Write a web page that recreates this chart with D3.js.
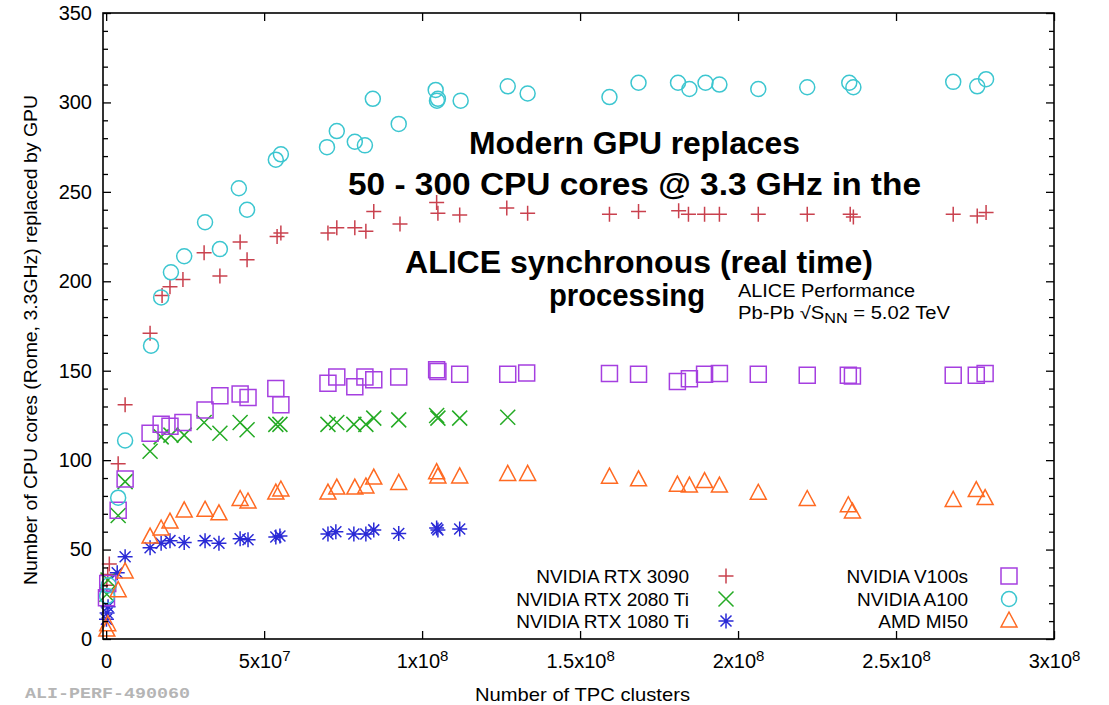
<!DOCTYPE html>
<html><head><meta charset="utf-8">
<script src="https://cdn.jsdelivr.net/npm/d3@7"></script>
<style>body{margin:0;background:#fff}svg{display:block}</style>
</head><body>
<svg id="c" width="1109" height="705" font-family="Liberation Sans, Arial, sans-serif"></svg>
<script>
// ---- data (x in units of 1e7 TPC clusters, y = CPU cores replaced) ----
const seriesNames = ["NVIDIA RTX 3090","NVIDIA RTX 2080 Ti","NVIDIA RTX 1080 Ti","NVIDIA V100s","NVIDIA A100","AMD MI50"];
const rtx3090X = [0.02,0.05,0.1,0.38,0.6,1.39,1.77,2.02,2.43,3.1,3.6,4.24,4.46,5.41,5.53,7.02,7.3,7.87,8.22,8.47,9.3,10.46,10.5,11.19,12.68,13.34,15.93,16.85,18.12,18.43,18.94,19.41,20.64,22.19,23.55,23.65,26.81,27.57,27.85];
const rtx3090Y = [30,36,42,98,131,171,192,197,201,216,203,222,212,225,227,227,230,230,228,239,232,244,238,237,241,238,237.5,239,239.5,237.5,237.5,237.5,237.5,237.5,237.5,236,237.5,236.5,238.5];
const rtx2080X = [0.02,0.06,0.38,0.6,1.39,1.74,2.05,2.47,3.1,3.6,4.24,4.46,5.37,5.5,7.02,7.3,7.84,8.22,8.47,9.26,10.46,10.5,11.19,12.71];
const rtx2080Y = [25,33,69,88,105,113,114,114,121,115,121,117,120,120,120,121,120,120,123.5,122.5,125,123.5,123.5,124];
const rtx1080X = [0.01,0.03,0.06,0.35,0.6,1.39,1.74,2.02,2.47,3.13,3.57,4.24,4.49,5.37,5.5,7.02,7.27,7.84,8.22,8.47,9.26,10.46,10.5,11.19];
const rtx1080Y = [11,14.5,18,37,46,51,53.5,55,54,55,53.5,56,55.5,57,57.6,58.7,60,58.7,58.7,61,59,62,61,61.5];
const v100sX = [0.01,0.05,0.38,0.6,1.39,1.74,2.02,2.43,3.13,3.6,4.24,4.49,5.37,5.53,7.02,7.3,7.87,8.19,8.47,9.26,10.46,10.5,11.19,12.71,13.31,15.93,16.85,18.08,18.46,18.94,19.41,20.64,22.19,23.49,23.62,26.81,27.54,27.82];
const v100sY = [23,31,72,89.5,115,120,119,121,128,136,137,135,140,131,143,146.5,141,146.5,145,146.5,150.5,149.5,148,148,148.7,148.5,148,144,145.5,148,148.5,148,147.5,147.5,147,147.5,147.5,148.5];
const a100X = [0.03,0.08,0.38,0.6,1.42,1.74,2.05,2.47,3.13,3.6,4.2,4.46,5.37,5.53,6.99,7.3,7.87,8.19,8.44,9.26,10.43,10.47,10.5,11.22,12.71,13.34,15.93,16.85,18.1,18.46,18.97,19.41,20.64,22.19,23.52,23.65,26.81,27.57,27.85];
const a100Y = [24,30,79,111,164,191,205,214,233,218,252,240,268,271,275,284,278,276,302,288,307,301,302,301,309,305,303,311,311,307.5,311,310,307.5,308.5,311,308.5,311.5,309,313];
const mi50X = [0.02,0.05,0.38,0.6,1.39,1.74,2.02,2.47,3.13,3.57,4.24,4.49,5.37,5.53,7.02,7.3,7.87,8.22,8.47,9.26,10.46,10.5,11.19,12.71,13.34,15.93,16.85,18.08,18.46,18.94,19.41,20.64,22.19,23.49,23.62,26.81,27.54,27.82];
const mi50Y = [5,8,27,37.5,57,61.5,65.4,71.6,72,70,78,76.6,81.6,83.3,81.6,84.4,84.4,85,90,87,93,90.6,90.6,92,92,90.5,89,86,85.5,88,85.5,81.5,78,74.5,71,77.5,83,78.5];
const xTickValues = [0,5e7,1e8,1.5e8,2e8,2.5e8,3e8];
const xTickMantissa = ["0","5x10","1x10","1.5x10","2x10","2.5x10","3x10"];
const xTickExponent = ["","7","8","8","8","8","8"];
const yTickValues = [0,50,100,150,200,250,300,350];

const series = [
  {name:seriesNames[0], xs:rtx3090X, ys:rtx3090Y, color:"#c9414e", sym:"plus"},
  {name:seriesNames[1], xs:rtx2080X, ys:rtx2080Y, color:"#25ab25", sym:"cross"},
  {name:seriesNames[2], xs:rtx1080X, ys:rtx1080Y, color:"#2a2ad6", sym:"star"},
  {name:seriesNames[3], xs:v100sX, ys:v100sY, color:"#a53fe0", sym:"square"},
  {name:seriesNames[4], xs:a100X, ys:a100Y, color:"#3cc6d0", sym:"circle"},
  {name:seriesNames[5], xs:mi50X, ys:mi50Y, color:"#ff6a22", sym:"triangle"}
];

const svg = d3.select("#c");
const L=103, R=1054, T=13, B=639;
const x = d3.scaleLinear().domain([-1e6,3e8]).range([L,R]);
const y = d3.scaleLinear().domain([0,350]).range([B,T]);

function symPath(s){
  switch(s){
    case "plus": return "M-7.5,0H7.5M0,-7.5V7.5";
    case "cross": return "M-7.5,-7.5L7.5,7.5M-7.5,7.5L7.5,-7.5";
    case "star": return "M-7.5,0H7.5M0,-7.5V7.5M-5.5,-5.5L5.5,5.5M-5.5,5.5L5.5,-5.5";
    case "square": return "M-8,-8H8V8H-8Z";
    case "circle": return "M7.5,0A7.5,7.5 0 1,1 -7.5,0A7.5,7.5 0 1,1 7.5,0Z";
    case "triangle": return "M0,-9L8,6H-8Z";
  }
}

// data marks
const gData = svg.append("g");
series.forEach(s=>{
  const pts = s.xs.map((v,i)=>({x:v*1e7, y:s.ys[i]}));
  gData.append("g").selectAll("path").data(pts).join("path")
    .attr("transform", d=>`translate(${x(d.x)},${y(d.y)})`)
    .attr("d", symPath(s.sym))
    .attr("fill","none").attr("stroke", s.color).attr("stroke-width",1.5);
});

// axes
const axisStyle = g => { g.select(".domain").remove(); g.selectAll("line").attr("stroke","#000").attr("stroke-width",1.3); };
const gx = svg.append("g").attr("transform",`translate(0,${B})`)
  .call(d3.axisBottom(x).tickValues(xTickValues).tickSize(-8).tickSizeOuter(0).tickPadding(15))
  .call(axisStyle);
gx.selectAll("text").each(function(d,i){
  const t = d3.select(this).text(null).attr("font-size",20).attr("fill","#000")
    .attr("font-family","Liberation Sans, Arial, sans-serif");
  t.append("tspan").text(xTickMantissa[i]);
  if (xTickExponent[i]) t.append("tspan").attr("dy","-0.45em").attr("font-size",15).text(xTickExponent[i]);
});
svg.append("g").attr("transform",`translate(0,${T})`)
  .call(d3.axisTop(x).tickValues(xTickValues).tickSize(-8).tickSizeOuter(0).tickFormat(""))
  .call(axisStyle);
const gy = svg.append("g").attr("transform",`translate(${L},0)`)
  .call(d3.axisLeft(y).tickValues(yTickValues).tickSize(-8).tickSizeOuter(0).tickPadding(11))
  .call(axisStyle);
gy.selectAll("text").attr("font-size",20).attr("fill","#000").attr("font-family","Liberation Sans, Arial, sans-serif");
const minorY = d3.range(0,351,10).filter(v=>v%50!==0);
svg.append("g").attr("transform",`translate(${L},0)`)
  .call(d3.axisLeft(y).tickValues(minorY).tickSize(-5).tickSizeOuter(0).tickFormat("")).call(axisStyle);
svg.append("g").attr("transform",`translate(${R},0)`)
  .call(d3.axisRight(y).tickValues(yTickValues).tickSize(-8).tickSizeOuter(0).tickFormat("")).call(axisStyle);
svg.append("g").attr("transform",`translate(${R},0)`)
  .call(d3.axisRight(y).tickValues(minorY).tickSize(-5).tickSizeOuter(0).tickFormat("")).call(axisStyle);
svg.append("rect").attr("x",L).attr("y",T).attr("width",R-L).attr("height",B-T)
  .attr("fill","none").attr("stroke","#000").attr("stroke-width",1.6);

// axis titles
svg.append("text").attr("x",(L+R)/2+4).attr("y",701).attr("text-anchor","middle")
  .attr("font-size",19).attr("textLength",215).attr("lengthAdjust","spacingAndGlyphs")
  .text("Number of TPC clusters");
svg.append("text").attr("transform","translate(37,340) rotate(-90)").attr("text-anchor","middle")
  .attr("font-size",19).attr("textLength",490).attr("lengthAdjust","spacingAndGlyphs")
  .text("Number of CPU cores (Rome, 3.3GHz) replaced by GPU");

// legend
const legendCols = [{tx:689, sx:726},{tx:968, sx:1009}];
const legendRows = [576,599,621];
series.forEach((s,i)=>{
  const c = legendCols[Math.floor(i/3)], ry = legendRows[i%3];
  svg.append("text").attr("x",c.tx).attr("y",ry+6.5).attr("text-anchor","end")
    .attr("font-size",19).text(s.name);
  svg.append("path").attr("transform",`translate(${c.sx},${ry})`).attr("d",symPath(s.sym))
    .attr("fill","none").attr("stroke",s.color).attr("stroke-width",1.5);
});

// annotation
const ann = [
  {t:"Modern GPU replaces", x:634.5, y:154, w:331},
  {t:"50 - 300 CPU cores @ 3.3 GHz in the", x:634.5, y:195, w:573},
  {t:"ALICE synchronous (real time)", x:639, y:273, w:468},
  {t:"processing", x:627, y:306, w:156}
];
ann.forEach(a=>svg.append("text").attr("x",a.x).attr("y",a.y).attr("text-anchor","middle")
  .attr("font-size",31).attr("font-weight","bold").attr("textLength",a.w).attr("lengthAdjust","spacingAndGlyphs").text(a.t));
svg.append("text").attr("x",738).attr("y",297).attr("font-size",17.5)
  .attr("textLength",177).attr("lengthAdjust","spacingAndGlyphs").text("ALICE Performance");
const t2 = svg.append("text").attr("x",738).attr("y",319).attr("font-size",17.5)
  .attr("textLength",212).attr("lengthAdjust","spacingAndGlyphs");
t2.append("tspan").text("Pb-Pb \u221AS");
t2.append("tspan").attr("dy",4).attr("font-size",14).text("NN");
t2.append("tspan").attr("dy",-4).text(" = 5.02 TeV");

svg.append("text").attr("x",25).attr("y",698)
  .style("font-family","'Liberation Mono', 'Courier New', monospace")
  .attr("font-weight","bold").attr("font-size",15).attr("fill","#b5b5b5")
  .attr("textLength",165).attr("lengthAdjust","spacingAndGlyphs").text("ALI-PERF-490060");
</script>
</body></html>
